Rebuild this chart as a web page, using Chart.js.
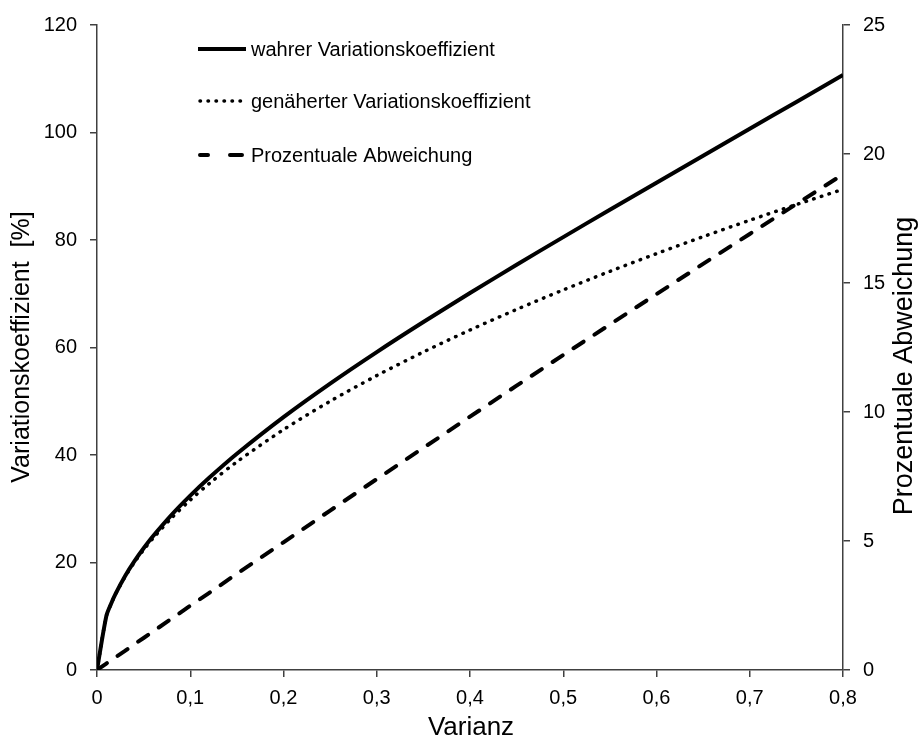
<!DOCTYPE html>
<html>
<head>
<meta charset="utf-8">
<script src="https://cdn.jsdelivr.net/npm/chart.js@4"></script>
<style>
  body { margin: 0; background: #fff; }
</style>
</head>
<body>
<canvas id="chart" width="923" height="743"></canvas>
<script>
// values
var varianz = [0, 0.01, 0.015, 0.02, 0.03, 0.04, 0.05, 0.06, 0.08, 0.1, 0.12, 0.15, 0.2, 0.25, 0.3, 0.35, 0.4, 0.45, 0.5, 0.55, 0.6, 0.65, 0.7, 0.75, 0.8];
var wahrerVK = [0, 10.03, 12.29, 14.21, 17.45, 20.2, 22.64, 24.87, 28.86, 32.43, 35.71, 40.23, 47.05, 53.29, 59.15, 64.74, 70.13, 75.39, 80.54, 85.63, 90.67, 95.68, 100.69, 105.69, 110.7];
var genaeherterVK = [0, 10, 12.25, 14.14, 17.32, 20, 22.36, 24.49, 28.28, 31.62, 34.64, 38.73, 44.72, 50, 54.77, 59.16, 63.25, 67.08, 70.71, 74.16, 77.46, 80.62, 83.67, 86.6, 89.44];
var abweichung = [0, 0.25, 0.37, 0.5, 0.74, 1, 1.24, 1.49, 1.99, 2.49, 2.98, 3.73, 4.95, 6.18, 7.4, 8.61, 9.82, 11.02, 12.21, 13.39, 14.57, 15.74, 16.9, 18.06, 19.21];
var seriesNames = ["wahrer Variationskoeffizient", "genäherter Variationskoeffizient", "Prozentuale Abweichung"];

var FONT = "'Liberation Sans', Arial, sans-serif";
var AXIS = "#404040";

function points(ys) {
  return varianz.map(function (v, i) { return { x: v, y: ys[i] }; });
}

var styles = [
  { width: 4, dash: [], cap: "butt" },
  { width: 3.5, dash: [0.5, 7.5], cap: "round" },
  { width: 4, dash: [12, 13], cap: "round" }
];

var extras = {
  id: "extras",
  afterDraw: function (chart) {
    var ctx = chart.ctx;
    ctx.save();
    // legend
    var rows = [49, 101, 155];
    for (var i = 0; i < 3; i++) {
      ctx.beginPath();
      ctx.strokeStyle = "#000";
      ctx.lineWidth = styles[i].width;
      ctx.lineCap = styles[i].cap;
      ctx.setLineDash(styles[i].dash);
      if (i == 2) {
        ctx.moveTo(200, rows[i]); ctx.lineTo(208, rows[i]);
        ctx.moveTo(230, rows[i]); ctx.lineTo(242, rows[i]);
      } else {
        ctx.moveTo(i == 1 ? 200 : 198, rows[i]);
        ctx.lineTo(246, rows[i]);
      }
      ctx.stroke();
      ctx.setLineDash([]);
      ctx.fillStyle = "#000";
      ctx.font = "20px " + FONT;
      ctx.textBaseline = "middle";
      ctx.textAlign = "left";
      ctx.fillText(seriesNames[i], 251, rows[i] + 1);
    }
    // axis titles
    ctx.textAlign = "center";
    ctx.font = "26px " + FONT;
    ctx.fillText("Varianz", 471, 728);
    ctx.save();
    ctx.font = "25px " + FONT;
    ctx.translate(22, 347);
    ctx.rotate(-Math.PI / 2);
    ctx.fillText("Variationskoeffizient  [%]", 0, 0);
    ctx.restore();
    ctx.save();
    ctx.font = "27px " + FONT;
    ctx.translate(905, 366);
    ctx.rotate(-Math.PI / 2);
    ctx.fillText("Prozentuale Abweichung", 0, 0);
    ctx.restore();
    ctx.restore();
  }
};

var ticksFont = { family: FONT, size: 20 };

new Chart(document.getElementById("chart"), {
  type: "line",
  data: {
    datasets: [
      { label: seriesNames[0], data: points(wahrerVK), yAxisID: "y", borderColor: "#000", borderWidth: 4, pointRadius: 0, tension: 0.3, borderCapStyle: "butt" },
      { label: seriesNames[1], data: points(genaeherterVK), yAxisID: "y", borderColor: "#000", borderWidth: 3.5, borderDash: [0.5, 7.5], borderCapStyle: "round", pointRadius: 0, tension: 0.3 },
      { label: seriesNames[2], data: points(abweichung), yAxisID: "y2", borderColor: "#000", borderWidth: 4, borderDash: [12, 13], borderCapStyle: "round", pointRadius: 0 }
    ]
  },
  options: {
    responsive: false,
    animation: false,
    layout: { padding: { top: 23, left: 0, right: 0, bottom: 0 } },
    plugins: { legend: { display: false }, tooltip: { enabled: false } },
    scales: {
      x: {
        type: "linear", min: 0, max: 0.8,
        afterFit: function (s) { s.height = 73; },
        afterBuildTicks: function (s) {
          s.ticks = [0, 0.1, 0.2, 0.3, 0.4, 0.5, 0.6, 0.7, 0.8].map(function (v) { return { value: v }; });
        },
        ticks: {
          color: "#000", font: ticksFont, padding: 9, maxRotation: 0,
          callback: function (v) { return String(Math.round(v * 10) / 10).replace(".", ","); }
        },
        grid: { drawOnChartArea: false, tickLength: 7, color: AXIS, lineWidth: 1.5 },
        border: { color: AXIS, width: 1.5 }
      },
      y: {
        position: "left", min: 0, max: 120,
        afterFit: function (s) { s.width = 97; },
        ticks: { stepSize: 20, color: "#000", font: ticksFont, padding: 13 },
        grid: { drawOnChartArea: false, tickLength: 7, color: AXIS, lineWidth: 1.5 },
        border: { color: AXIS, width: 1.5 }
      },
      y2: {
        position: "right", min: 0, max: 25,
        afterFit: function (s) { s.width = 80; },
        ticks: { stepSize: 5, color: "#000", font: ticksFont, padding: 13 },
        grid: { drawOnChartArea: false, tickLength: 7, color: AXIS, lineWidth: 1.5 },
        border: { color: AXIS, width: 1.5 }
      }
    }
  },
  plugins: [extras]
});
</script>
</body>
</html>
